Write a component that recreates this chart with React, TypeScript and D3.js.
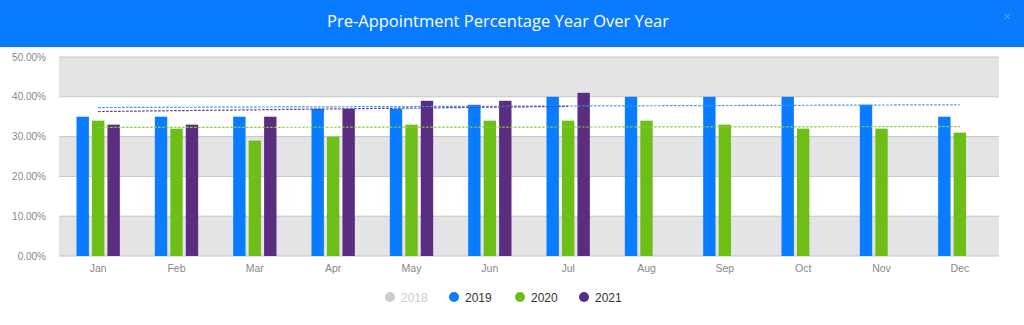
import React from "react";
import * as d3 from "d3";

const title = "Pre-Appointment Percentage Year Over Year";
const months = ["Jan", "Feb", "Mar", "Apr", "May", "Jun", "Jul", "Aug", "Sep", "Oct", "Nov", "Dec"];
const seriesNames = ["2019", "2020", "2021"];
const legendNames = ["2018", "2019", "2020", "2021"];
const values2019 = [35, 35, 35, 37, 37, 38, 40, 40, 40, 40, 38, 35];
const values2020 = [34, 32, 29, 30, 33, 34, 34, 34, 33, 32, 32, 31];
const values2021 = [33, 33, 35, 37, 39, 39, 41, null, null, null, null, null];
// trend line endpoints [start value, end value], [start month index, end month index]
const trend2019 = [37.3, 38.0];
const trend2020 = [32.3, 32.5];
const trend2021 = [36.3, 37.6];
const trendSpan2019 = [0, 11];
const trendSpan2020 = [0, 11];
const trendSpan2021 = [0, 6];
const yTicks = [0, 10, 20, 30, 40, 50];

const W = 1024;
const H = 325;
const colors: Record<string, string> = {
  "2018": "#cccccc",
  "2019": "#0a7cff",
  "2020": "#6dbf18",
  "2021": "#5a2d80",
};
const trendColors: Record<string, string> = {
  "2019": "#3d94f5",
  "2020": "#86cc3c",
  "2021": "#5f3a8e",
};

export default function App() {
  const left = 59;
  const right = 999;
  const top = 57;
  const bottom = 256;
  const x = d3.scaleBand<string>().domain(months).range([left, right]).padding(0);
  const groupPad = 17.5;
  const inner = d3
    .scaleBand<string>()
    .domain(seriesNames)
    .range([groupPad, x.bandwidth() - groupPad])
    .paddingInner(0.2);
  const y = d3.scaleLinear().domain([0, 50]).range([bottom, top]);
  const data: Record<string, (number | null)[]> = {
    "2019": values2019,
    "2020": values2020,
    "2021": values2021,
  };
  const trends: Record<string, number[][]> = {
    "2019": [trend2019, trendSpan2019],
    "2020": [trend2020, trendSpan2020],
    "2021": [trend2021, trendSpan2021],
  };
  const font = "'Liberation Sans', Arial, sans-serif";
  const legendX = [390, 454, 520, 584];

  return (
    <div style={{ position: "fixed", left: 0, top: 0 }}>
      <svg width={W} height={H} style={{ display: "block", background: "#fff" }}>
        <rect x={0} y={0} width={W} height={47} fill="#0a7bff" />
        <text
          x={498}
          y={27}
          textAnchor="middle"
          fill="#ffffff"
          fontFamily="'Open Sans', sans-serif"
          fontSize={16.5}
        >
          {title}
        </text>
        <text x={1007} y={21} textAnchor="middle" fill="#ffffff" fillOpacity={0.35} fontFamily={font} fontSize={13}>
          ×
        </text>

        {/* alternating bands */}
        {yTicks.slice(0, -1).map((t, i) =>
          i % 2 === 0 ? (
            <rect key={"b" + t} x={left} y={y(t + 10)} width={right - left} height={y(t) - y(t + 10)} fill="#e4e4e6" />
          ) : null
        )}
        {yTicks.map((t) => (
          <line key={"g" + t} x1={left} x2={right} y1={y(t)} y2={y(t)} stroke="#c6c6c8" strokeWidth={1} />
        ))}
        {yTicks.map((t) => (
          <text
            key={"yl" + t}
            x={46}
            y={y(t) + 3.5}
            textAnchor="end"
            fill="#888"
            fontFamily={font}
            fontSize={10}
          >
            {d3.format(".2f")(t) + "%"}
          </text>
        ))}

        {/* bars */}
        {seriesNames.map((s) =>
          data[s].map((v, i) =>
            v == null ? null : (
              <rect
                key={s + i}
                x={(x(months[i]) as number) + (inner(s) as number)}
                y={y(v)}
                width={inner.bandwidth()}
                height={y(0) - y(v)}
                fill={colors[s]}
              />
            )
          )
        )}

        {/* trend lines */}
        {seriesNames.map((s) => {
          const [vals, span] = trends[s];
          const cx = (i: number) => (x(months[i]) as number) + x.bandwidth() / 2;
          return (
            <line
              key={"t" + s}
              x1={cx(span[0])}
              x2={cx(span[1])}
              y1={y(vals[0])}
              y2={y(vals[1])}
              stroke={trendColors[s]}
              strokeWidth={1.2}
              strokeDasharray="2.5,1.5"
            />
          );
        })}

        {/* x labels */}
        {months.map((m) => (
          <text
            key={"xl" + m}
            x={(x(m) as number) + x.bandwidth() / 2}
            y={272}
            textAnchor="middle"
            fill="#888"
            fontFamily={font}
            fontSize={10.5}
          >
            {m}
          </text>
        ))}

        {/* legend */}
        {legendNames.map((n, i) => (
          <g key={"lg" + n}>
            <circle cx={legendX[i]} cy={297} r={5} fill={colors[n]} />
            <text
              x={legendX[i] + 11}
              y={301.5}
              fill={n === "2018" ? "#cccccc" : "#333333"}
              fontFamily={font}
              fontSize={12}
            >
              {n}
            </text>
          </g>
        ))}
      </svg>
    </div>
  );
}
